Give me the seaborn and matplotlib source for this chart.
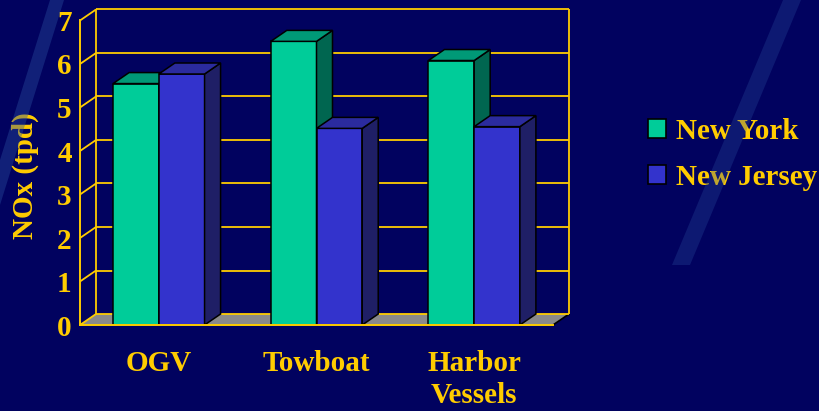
import numpy as np
import pandas as pd
import matplotlib
matplotlib.use("Agg")
import matplotlib.pyplot as plt
import seaborn as sns
from matplotlib.patches import Polygon, Patch

# Data
vessels = ["OGV", "Towboat", "Harbor\nVessels"]
new_york = [5.55, 6.52, 6.08]
new_jersey = [5.77, 4.52, 4.56]
regions = ["New York", "New Jersey"]
y_ticks = [0, 1, 2, 3, 4, 5, 6, 7]

# Styling
BG = "#01025F"
GOLD = "#FFCC00"
FRONT = {"New York": "#00CC99", "New Jersey": "#3333CC"}
TOP = {"New York": "#009977", "New Jersey": "#2B2B9E"}
SIDE = {"New York": "#006650", "New Jersey": "#1F1F66"}
FONT = "Liberation Serif"
FS = 21
W, H = 819, 411
DEPTH_PX = (16, 11)

df = pd.DataFrame({
    "vessel": vessels * 2,
    "region": [regions[0]] * 3 + [regions[1]] * 3,
    "nox": new_york + new_jersey,
})

sns.set_style("white")
plt.rcParams["font.family"] = [FONT, "DejaVu Serif"]
plt.rcParams["font.weight"] = "bold"

fig = plt.figure(figsize=(W / 100, H / 100), dpi=100, facecolor=BG)

# background streaks
def fig_poly(pts, **kw):
    pts = [(x / W, 1 - y / H) for x, y in pts]
    fig.patches.append(Polygon(pts, closed=True, transform=fig.transFigure, **kw))

fig_poly([(50, 0), (64, 0), (0, 205), (0, 160)], facecolor="#2a4f9e", alpha=0.40, lw=0, zorder=0)
fig_poly([(783, 0), (801, 0), (690, 265), (672, 265)], facecolor="#2a4f9e", alpha=0.30, lw=0, zorder=0)

ax_l, ax_r, ax_b, ax_t = 80, 553, 325, 20.5
ax = fig.add_axes([ax_l / W, 1 - ax_b / H, (ax_r - ax_l) / W, (ax_b - ax_t) / H])
ax.patch.set_visible(False)

sns.barplot(data=df, x="vessel", y="nox", hue="region", hue_order=regions,
            palette=FRONT, width=0.58, edgecolor="black", linewidth=1.1,
            saturation=1, legend=False, ax=ax)
bars = [p for p in ax.patches if np.isfinite(p.get_height()) and p.get_height() > 0]

ax.set_xlim(-0.5, 2.5)
ax.set_ylim(0, 7)

ddx = DEPTH_PX[0] / ((ax_r - ax_l) / 3.0)
ddy = DEPTH_PX[1] / ((ax_b - ax_t) / 7.0)
x_lo, x_hi = ax.get_xlim()
line_kw = dict(color=GOLD, lw=1.3, clip_on=False, solid_capstyle="butt")

# floor
ax.add_patch(Polygon([(x_lo, 0), (x_hi, 0), (x_hi + ddx, ddy), (x_lo + ddx, ddy)],
                     closed=True, facecolor="#8a8a8a", edgecolor="none", clip_on=False, zorder=0.5))
ax.plot([x_hi, x_hi + ddx], [0, ddy], color="black", lw=1.2, clip_on=False, zorder=0.6)

# back wall + left wall gridlines
for v in y_ticks:
    ax.plot([x_lo + ddx, x_hi + ddx], [v + ddy, v + ddy], zorder=0.7, **line_kw)
    ax.plot([x_lo, x_lo + ddx], [v, v + ddy], zorder=0.7, **line_kw)
ax.plot([x_lo + ddx, x_lo + ddx], [ddy, 7 + ddy], zorder=0.7, **line_kw)
ax.plot([x_hi + ddx, x_hi + ddx], [ddy, 7 + ddy], zorder=0.7, **line_kw)

# 3D sides and tops of the bars
for bar in bars:
    h = bar.get_height()
    fc = matplotlib.colors.to_hex(bar.get_facecolor())
    reg = "New York" if fc.lower() == FRONT["New York"].lower() else "New Jersey"
    z = 2 if reg == "New York" else 4
    bar.set_zorder(z - 0.5 if reg == "New York" else z)
    bar.set_clip_on(False)
    x0, w = bar.get_x(), bar.get_width()
    side = [(x0 + w, 0), (x0 + w + ddx, ddy), (x0 + w + ddx, h + ddy), (x0 + w, h)]
    top = [(x0, h), (x0 + ddx, h + ddy), (x0 + w + ddx, h + ddy), (x0 + w, h)]
    ax.add_patch(Polygon(side, closed=True, facecolor=SIDE[reg], edgecolor="black",
                         lw=1.1, clip_on=False, zorder=z + 0.1))
    ax.add_patch(Polygon(top, closed=True, facecolor=TOP[reg], edgecolor="black",
                         lw=1.1, clip_on=False, zorder=z + 0.1))

# axes lines
sns.despine(ax=ax, top=True, right=True)
for s in ("left", "bottom"):
    ax.spines[s].set_color(GOLD)
    ax.spines[s].set_linewidth(1.4)
    ax.spines[s].set_zorder(6)

ax.set_yticks(y_ticks)
ax.set_yticklabels([str(t) for t in y_ticks])
ax.tick_params(axis="y", colors=GOLD, length=3, width=1.4, pad=3, labelsize=FS)
ax.set_xticks(range(len(vessels)))
ax.set_xticklabels(vessels, linespacing=1.22)
ax.set_xticks([x_lo, 0.5, 1.5, x_hi], minor=True)
ax.tick_params(axis="x", which="major", length=0, pad=18, labelsize=FS, colors=GOLD)
ax.tick_params(axis="x", which="minor", length=4, width=1.4, color=GOLD, direction="out")
for lab in ax.get_xticklabels() + ax.get_yticklabels():
    lab.set_fontweight("bold")
    lab.set_color(GOLD)

ax.set_xlabel("")
ax.set_ylabel("NOx (tpd)", fontsize=FS, fontweight="bold", color=GOLD)
ax.yaxis.label.set_va("center")
ax.yaxis.set_label_coords((25 - ax_l) / (ax_r - ax_l), 0.49)

handles = [Patch(facecolor=FRONT[r], edgecolor="black", lw=1.2) for r in regions]
leg = ax.legend(handles, regions, loc="upper left",
                bbox_to_anchor=(648 / W, 1 - 118 / H), bbox_transform=fig.transFigure,
                frameon=False, borderpad=0, borderaxespad=0,
                handlelength=0.62, handleheight=0.62, handletextpad=0.35,
                labelspacing=0.64, prop={"family": FONT, "weight": "bold", "size": FS})
for t in leg.get_texts():
    t.set_color(GOLD)

fig.savefig("out.png", dpi=100, facecolor=BG)
